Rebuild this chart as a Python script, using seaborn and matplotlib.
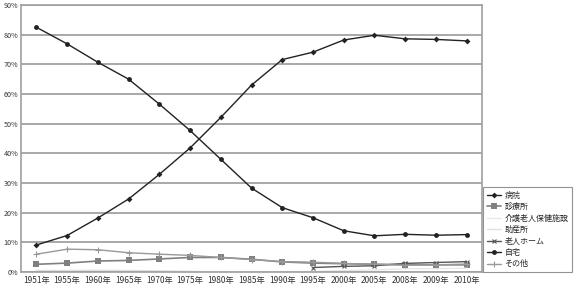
import numpy as np
import pandas as pd
import matplotlib
matplotlib.use("Agg")
import matplotlib.pyplot as plt
import seaborn as sns

years = ["1951年", "1955年", "1960年", "1965年", "1970年", "1975年", "1980年", "1985年",
         "1990年", "1995年", "2000年", "2005年", "2008年", "2009年", "2010年"]

nan = np.nan
hospital = [9.1, 12.3, 18.2, 24.6, 32.9, 41.8, 52.1, 63.0, 71.6, 74.1, 78.2, 79.8, 78.6, 78.4, 77.9]
clinic = [2.6, 3.0, 3.7, 3.9, 4.4, 4.9, 4.9, 4.3, 3.4, 3.0, 2.8, 2.6, 2.5, 2.4, 2.4]
rouken = [nan, nan, nan, nan, nan, nan, nan, nan, 0.0, 0.2, 0.5, 0.7, 1.1, 1.1, 1.3]
josan = [0.5, 0.5, 0.6, 0.5, 0.4, 0.2, 0.1, 0.1, 0.0, 0.0, 0.0, 0.0, 0.0, 0.0, 0.0]
rojin = [nan, nan, nan, nan, nan, nan, nan, nan, nan, 1.5, 1.9, 2.1, 2.9, 3.2, 3.5]
home = [82.5, 76.9, 70.7, 65.0, 56.6, 47.7, 38.0, 28.3, 21.7, 18.3, 13.9, 12.2, 12.7, 12.4, 12.6]
other = [6.0, 7.7, 7.5, 6.5, 6.0, 5.6, 4.9, 4.2, 3.5, 3.3, 2.9, 2.6, 2.3, 2.4, 2.7]

series_names = ["病院", "診療所", "介護老人保健施設", "助産所", "老人ホーム", "自宅", "その他"]
series_vals = [hospital, clinic, rouken, josan, rojin, home, other]

rows = []
for name, vals in zip(series_names, series_vals):
    for i, v in enumerate(vals):
        rows.append({"idx": i, "series": name, "value": v})
df = pd.DataFrame(rows)

sns.set_style("white")
plt.rcParams["font.family"] = ["Noto Sans CJK JP", "DejaVu Sans"]

styles = {
    "病院": dict(color="#222222", marker="D", ms=3, lw=1.0),
    "診療所": dict(color="#808080", marker="s", ms=4, lw=1.2),
    "介護老人保健施設": dict(color="#e8e8e8", marker=None, ms=0, lw=1.0),
    "助産所": dict(color="#e0e0e0", marker=None, ms=0, lw=1.0),
    "老人ホーム": dict(color="#555555", marker="x", ms=3, lw=1.0),
    "自宅": dict(color="#222222", marker="o", ms=3.5, lw=1.0),
    "その他": dict(color="#999999", marker="+", ms=4, lw=1.0),
}

fig = plt.figure(figsize=(5.84, 2.90), dpi=100)
ax = fig.add_axes([21/584, 18/290, (482-21)/584, (272-5)/290])

for name in series_names:
    st = styles[name]
    sub = df[df["series"] == name].dropna()
    sns.lineplot(data=sub, x="idx", y="value", ax=ax, color=st["color"], linewidth=st["lw"],
                 marker=st["marker"], markersize=st["ms"], markeredgewidth=0.8 if st["marker"] in ("x", "+") else 0,
                 markeredgecolor=st["color"], label=name, legend=False, sort=False)

ax.set_xlim(-0.5, len(years) - 0.5)
ax.set_ylim(0, 90)
ax.set_yticks(np.arange(0, 91, 10))
ax.set_yticklabels([f"{v}%" for v in range(0, 91, 10)], fontsize=5.2, color="#333333")
ax.set_xticks(range(len(years)))
ax.set_xticklabels(years, fontsize=6, color="#333333")
ax.set_xticks(np.arange(-0.5, len(years), 1), minor=True)
ax.tick_params(axis="x", which="major", length=0, pad=3)
ax.tick_params(axis="x", which="minor", length=2.5, color="#888888", width=0.6, direction="out")
ax.tick_params(axis="y", length=0, pad=2)
ax.yaxis.grid(True, color="#999999", linewidth=1.2)
ax.set_axisbelow(True)
for s in ax.spines.values():
    s.set_color("#a0a0a0")
    s.set_linewidth(1.2)
ax.set_xlabel("")
ax.set_ylabel("")

handles, labels = ax.get_legend_handles_labels()
leg = fig.legend(handles, labels, loc="lower left", bbox_to_anchor=(483/584, 18/290),
                 fontsize=5.8, frameon=True, fancybox=False, borderpad=0.45, labelspacing=0.3,
                 handlelength=1.8, handletextpad=0.4, borderaxespad=0)
leg.get_frame().set_edgecolor("#777777")
leg.get_frame().set_linewidth(0.8)

fig.savefig("out.png", dpi=100)
